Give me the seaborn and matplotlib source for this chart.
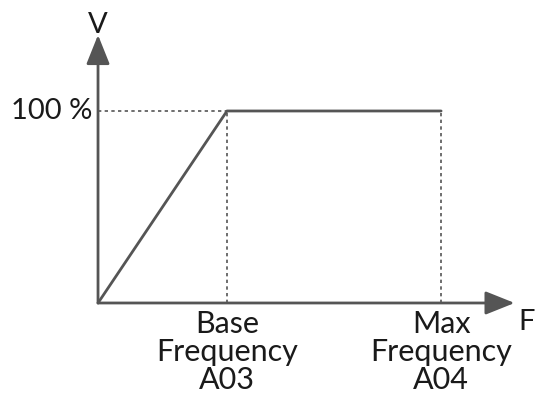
import matplotlib
matplotlib.use("Agg")
import matplotlib.pyplot as plt
import seaborn as sns
import pandas as pd

# data
freq = [0.0, 1.0, 2.66]          # origin, base frequency, max frequency
volt = [0.0, 100.0, 100.0]       # voltage %
base_f = 1.0
max_f = 2.66
label_100 = "100 %"
base_label = "Base\nFrequency\nA03"
max_label = "Max\nFrequency\nA04"

sns.set_theme(style="white")
plt.rcParams['font.family'] = ['Lato', 'DejaVu Sans']

fig = plt.figure(figsize=(5.35, 3.94), dpi=100)
ax = fig.add_axes([0, 0, 1, 1])
ax.set_xlim(-0.760, 3.388)
ax.set_ylim(-47.4, 157.8)
ax.axis("off")

gray = "#555555"
txt = "#1a1a1a"
df = pd.DataFrame({"F": freq, "V": volt})
sns.lineplot(data=df, x="F", y="V", ax=ax, color=gray, lw=2.0, sort=False)

# dotted guides
ax.plot([0, base_f], [100, 100], color=gray, lw=1.2, ls=(0, (2, 2)))
ax.plot([base_f, base_f], [0, 100], color=gray, lw=1.2, ls=(0, (2, 2)))
ax.plot([max_f, max_f], [0, 100], color=gray, lw=1.2, ls=(0, (2, 2)))

# axes with arrows
ax.annotate("", xy=(3.23, 0), xytext=(0, 0),
            arrowprops=dict(arrowstyle="-|>,head_length=1.5,head_width=0.6",
                            color=gray, lw=2, shrinkA=0, shrinkB=0))
ax.annotate("", xy=(0, 139.6), xytext=(0, 0),
            arrowprops=dict(arrowstyle="-|>,head_length=1.5,head_width=0.6",
                            color=gray, lw=2, shrinkA=0, shrinkB=0))

ax.text(0, 145.0, "V", ha="center", va="center", fontsize=21, color=txt)
ax.text(3.262, -10, "F", ha="left", va="center", fontsize=21, color=txt)
ax.text(-0.04, 100, label_100, ha="right", va="center", fontsize=21, color=txt)
ax.text(base_f, -3.5, base_label, ha="center", va="top", fontsize=22,
        color=txt, linespacing=1.0)
ax.text(max_f, -3.5, max_label, ha="center", va="top", fontsize=22,
        color=txt, linespacing=1.0)

fig.savefig("out.png", dpi=100)
